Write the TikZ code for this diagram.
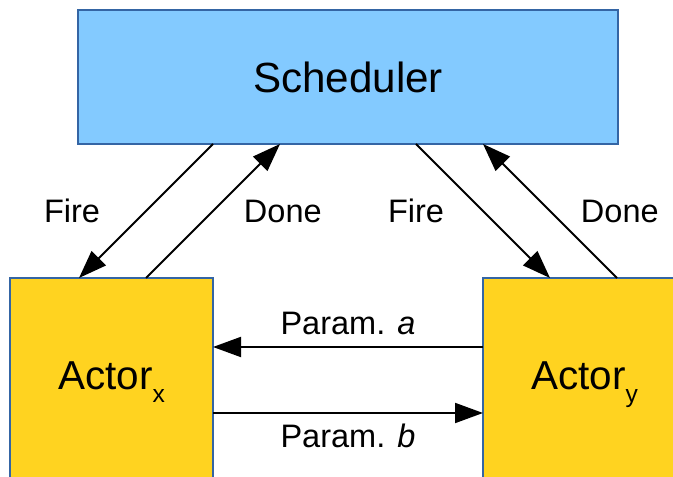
\documentclass[tikz,border=0pt]{standalone}
\usepackage{fontspec}
\setmainfont{Liberation Sans}
\usetikzlibrary{arrows.meta, calc, positioning}
\definecolor{schedblue}{HTML}{83CAFF}
\definecolor{actoryellow}{HTML}{FFD320}
\definecolor{edgeblue}{HTML}{3465A4}
% index set low under the actor name (same depth for x and y)
\newcommand{\lowsub}[1]{\raisebox{-0.33em}[\height][0.33em]{\fontsize{14}{16}\selectfont #1}}

\begin{document}
\begin{tikzpicture}[% styles used in image code
          > = {Triangle[length=5.6mm, width=4mm]},
 block/.style = {draw=edgeblue, line width=1pt,
                 inner sep=0pt, outer sep=0pt},
schedbox/.style = {block, fill=schedblue,
                 minimum width=10.8cm, minimum height=2.68cm,
                 font=\fontsize{24}{28}\selectfont},
actorbox/.style = {block, fill=actoryellow,
                 minimum width=4.06cm, minimum height=4.16cm,
                 font=\fontsize{23}{28}\selectfont},
  flow/.style = {->, line width=1.1pt},
   lbl/.style = {font=\fontsize{18.5}{22}\selectfont, inner sep=0pt}
                    ]
	% page size, the actor boxes run off the edges
	\useasboundingbox (0,0) rectangle (13.46,9.54);
	\clip (0,0) rectangle (13.46,9.54);

	% blocks
	\node[schedbox] (sched) at (6.96,8.0) {Scheduler};
	\node[actorbox, anchor=north west] (actx) at (0.2,3.98) {Actor\lowsub{x}};
	\node[actorbox, anchor=north west] (acty) at (9.66,3.98) {Actor\lowsub{y}};

	% end points on the block borders
	\coordinate (fx0) at ($(sched.south west)+(2.70,0)$);
	\coordinate (fx1) at ($(actx.north west)+(1.38,0)$);
	\coordinate (dx0) at ($(actx.north west)+(2.72,0)$);
	\coordinate (dx1) at ($(sched.south west)+(4.04,0)$);
	\coordinate (fy0) at ($(sched.south west)+(6.76,0)$);
	\coordinate (fy1) at ($(acty.north west)+(1.34,0)$);
	\coordinate (dy0) at ($(acty.north west)+(2.68,0)$);
	\coordinate (dy1) at ($(sched.south west)+(8.10,0)$);
	\coordinate (pa0) at ($(acty.north west)+(0,-1.38)$);
	\coordinate (pa1) at ($(actx.north east)+(0,-1.38)$);
	\coordinate (pb0) at ($(actx.north east)+(0,-2.70)$);
	\coordinate (pb1) at ($(acty.north west)+(0,-2.70)$);

	% fire / done
	\draw[flow] (fx0) -- (fx1) node[lbl, midway, left=9mm] (firex) {Fire};
	\draw[flow] (dx0) -- (dx1) node[lbl, midway, right=6mm] (donex) {Done};
	\draw[flow] (fy0) -- (fy1) node[lbl, midway, left=7.6mm] (firey) {Fire};
	\draw[flow] (dy0) -- (dy1) node[lbl, midway, right=6mm] (doney) {Done};

	% parameters between the actors
	\draw[flow] (pa0) -- (pa1) node[lbl, midway, above=2.2mm] (parama) {Param. \textit{a}};
	\draw[flow] (pb0) -- (pb1) node[lbl, midway, below=2mm] (paramb) {Param. \textit{b}};
\end{tikzpicture}
\end{document}
